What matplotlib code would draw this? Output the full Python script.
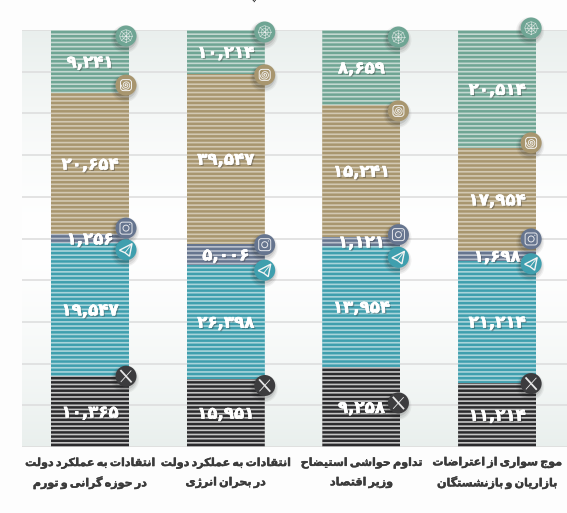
"""
Recreated stacked share chart: Persian text is shaped by hand because matplotlib does not do it.
"""

import numpy as np
import matplotlib

matplotlib.use("Agg")
import matplotlib.pyplot as plt
import matplotlib.patheffects as pe
from matplotlib.patches import Circle, FancyBboxPatch, Polygon

FA_DIGITS = str.maketrans("0123456789", "۰۱۲۳۴۵۶۷۸۹")

categories = [
    ["انتقادات به عملکرد دولت", "در حوزه گرانی و تورم"],
    ["انتقادات به عملکرد دولت", "در بحران انرژی"],
    ["تداوم حواشی استیضاح", "وزیر اقتصاد"],
    ["موج سواری از اعتراضات", "بازاریان و بازنشستگان"],
]
# from top of the stack to the bottom
green_vals = [9241, 10214, 8659, 20514]
tan_vals = [20654, 39547, 15241, 17954]
slate_vals = [1256, 5006, 1121, 1698]
teal_vals = [19547, 26398, 13954, 21214]
black_vals = [10365, 15951, 9258, 11214]

series = [green_vals, tan_vals, slate_vals, teal_vals, black_vals]
dark_colors = ["#6fa594", "#a8966f", "#66758f", "#3f9fae", "#2b2b2d"]
light_colors = ["#c3d8d0", "#d2c8b2", "#b9c0cc", "#a9d4da", "#c4c4c4"]
icon_kinds = ["net", "spiral", "insta", "plane", "x"]
# icon centre: pixels left of the bar edge, pixels below the top of its segment
icon_dx = [3, 0, 2, 5]
icon_dy = [
    [6, -8, -6, 7, 0],
    [2, 1, 1, 5, 7],
    [7, 6, -2, 11, 36],
    [-2, -5, -12, 3, 1],
]

FORMS = {
    "ا": "ﺍﺎ", "آ": "ﺁﺂ", "د": "ﺩﺪ", "ذ": "ﺫﺬ", "ر": "ﺭﺮ", "ز": "ﺯﺰ", "ژ": "ﮊﮋ", "و": "ﻭﻮ",
    "ب": "ﺏﺐﺑﺒ", "پ": "ﭖﭗﭘﭙ", "ت": "ﺕﺖﺗﺘ", "ث": "ﺙﺚﺛﺜ", "ج": "ﺝﺞﺟﺠ", "چ": "ﭺﭻﭼﭽ",
    "ح": "ﺡﺢﺣﺤ", "خ": "ﺥﺦﺧﺨ", "س": "ﺱﺲﺳﺴ", "ش": "ﺵﺶﺷﺸ", "ص": "ﺹﺺﺻﺼ", "ض": "ﺽﺾﺿﻀ",
    "ط": "ﻁﻂﻃﻄ", "ظ": "ﻅﻆﻇﻈ", "ع": "ﻉﻊﻋﻌ", "غ": "ﻍﻎﻏﻐ", "ف": "ﻑﻒﻓﻔ", "ق": "ﻕﻖﻗﻘ",
    "ک": "ﮎﮏﮐﮑ", "گ": "ﮒﮓﮔﮕ", "ل": "ﻝﻞﻟﻠ", "م": "ﻡﻢﻣﻤ", "ن": "ﻥﻦﻧﻨ", "ه": "ﻩﻪﻫﻬ",
    "ی": "ﯼﯽﯾﯿ",
}


def shape_fa(text):
    """Присоединяет буквы и разворачивает строку для отрисовки слева направо"""
    out = []
    for i, ch in enumerate(text):
        forms = FORMS.get(ch)
        if forms is None:
            out.append(ch)
            continue
        prev = text[i - 1] if i else " "
        nxt = text[i + 1] if i + 1 < len(text) else " "
        joins_prev = prev in FORMS and len(FORMS[prev]) == 4
        joins_next = nxt in FORMS and len(forms) == 4
        if joins_prev and joins_next:
            out.append(forms[3])
        elif joins_next:
            out.append(forms[2])
        elif joins_prev:
            out.append(forms[1])
        else:
            out.append(forms[0])
    return "".join(reversed(out)).replace(" ", "\u2009")


def draw_icon(ov, kind, cx, cy, color):
    for grow, alpha, shift in [(3.5, 0.06, 3), (2.2, 0.08, 3), (1.0, 0.12, 2)]:
        ov.add_patch(Circle((cx - 1, cy + shift), 10.5 + grow, color="#202020", alpha=alpha, lw=0, zorder=5))
    ov.add_patch(Circle((cx, cy), 10.5, color=color, lw=0, zorder=6))
    line = {"color": "#f4f4f4", "lw": 0.6, "zorder": 7}
    if kind == "net":
        for r in (6.4, 3.6):
            ang = np.linspace(0, 2 * np.pi, 9)
            ov.plot(cx + r * np.sin(ang), cy + r * np.cos(ang), alpha=0.6, **line)
        for a in np.linspace(0, 2 * np.pi, 8, endpoint=False):
            ov.plot([cx, cx + 6.4 * np.sin(a)], [cy, cy + 6.4 * np.cos(a)], alpha=0.6, **line)
    elif kind == "spiral":
        ov.add_patch(FancyBboxPatch((cx - 5.5, cy - 5.5), 11, 11, boxstyle="round,pad=0,rounding_size=3",
                                    fill=False, ec="#f4f4f4", lw=0.7, zorder=7))
        t = np.linspace(0, 5 * np.pi, 80)
        ov.plot(cx + t / 3.4 * np.cos(t), cy + t / 3.4 * np.sin(t), **line)
    elif kind == "insta":
        ov.add_patch(FancyBboxPatch((cx - 6, cy - 6), 12, 12, boxstyle="round,pad=0,rounding_size=2.5",
                                    fill=False, ec="#e6e8ec", lw=0.7, zorder=7))
        ov.add_patch(Circle((cx, cy), 3, fill=False, ec="#e6e8ec", lw=0.7, zorder=7))
        ov.add_patch(Circle((cx + 3.7, cy - 3.7), 0.6, color="#e6e8ec", lw=0, zorder=7))
    elif kind == "plane":
        pts = [(cx - 6.5, cy + 0.5), (cx + 6, cy - 6), (cx + 3.5, cy + 6.5), (cx - 1, cy + 3)]
        ov.add_patch(Polygon(pts, closed=True, fill=False, ec="#f4f4f4", lw=1.0, zorder=7))
        ov.plot([cx - 1, cx + 6], [cy + 3, cy - 6], **line)
    else:
        ov.plot([cx - 5, cx + 5], [cy - 5.5, cy + 5.5], color="#e8e8e8", lw=1.3, zorder=7)
        ov.plot([cx - 5, cx + 5], [cy + 5.5, cy - 5.5], color="#e8e8e8", lw=0.6, zorder=7)


W, H = 567, 513
fig = plt.figure(figsize=(W / 100, H / 100), dpi=100, facecolor="#fdfdfd")
ax = fig.add_axes([22 / W, 1 - 447 / H, (W - 22) / W, 417 / H])

# фон с градиентом сверху и снизу
grad = np.abs(np.linspace(-1, 1, 256)) ** 1.5
grad = np.stack([1 - grad * 0.085, 1 - grad * 0.062, 1 - grad * 0.07], axis=-1)[:, np.newaxis, :]
ax.imshow(grad, extent=[-0.501, 3.515, 0, 100], aspect="auto", zorder=0)

x = np.arange(len(categories))
bar_width = 0.575
totals = np.sum(series, axis=0)
stripe_y = np.arange(0, 100) + 0.5
tops = []
top = np.full(len(x), 100.0)
for vals, dark, light in zip(series, dark_colors, light_colors):
    share = np.array(vals) / totals * 100
    bars = ax.bar(x, share, bar_width, bottom=top - share, color=light, linewidth=0, zorder=2)
    # полоски: одна на каждый процент высоты
    for xi, bar in zip(x, bars):
        stripes = ax.hlines(stripe_y, xi - bar_width / 2, xi + bar_width / 2, color=dark, lw=1.8, zorder=3)
        stripes.set_snap(False)
        stripes.set_clip_path(bar)
    for xi, t, s, v in zip(x, top, share, vals):
        ax.text(xi, t - s / 2 - 0.2, f"{v:,}".translate(FA_DIGITS), ha="center", va="center", color="white",
                fontsize=12, fontweight="bold", zorder=4,
                path_effects=[pe.withSimplePatchShadow(offset=(1, -1), shadow_rgbFace="#333333", alpha=0.35),
                              pe.withStroke(linewidth=0.35, foreground="white")])
    tops.append(top.copy())
    top = top - share

ax.set_xlim(-0.501, 3.515)
ax.set_ylim(0, 100)
ax.set_yticks(np.arange(0, 101, 10))
ax.grid(axis="y", color="#dcdcdc", lw=1.1, zorder=1)
ax.set_axisbelow(True)
ax.tick_params(length=0, labelleft=False, labelbottom=False)
for s in ax.spines.values():
    s.set_visible(False)

# верхний слой в пикселях для значков
ov = fig.add_axes([0, 0, 1, 1], facecolor="none")
ov.set_xlim(0, W)
ov.set_ylim(H, 0)
ov.axis("off")
to_px = ax.transData
for i, xi in enumerate(x):
    for j, kind in enumerate(icon_kinds):
        px, py = to_px.transform((xi + bar_width / 2, tops[j][i]))
        draw_icon(ov, kind, px - icon_dx[i], H - py + icon_dy[i][j], dark_colors[j] if j < 4 else "#3c3c3e")
    cx_px = to_px.transform((xi, 0))[0]
    for k, row in enumerate(categories[i]):
        fig.text(cx_px / W, 1 - (463 + k * 19.5) / H, shape_fa(row), ha="center", va="center",
                 fontsize=8.0, fontweight="bold", color="#3b3b3b", family="DejaVu Sans",
                 path_effects=[pe.withStroke(linewidth=0.3, foreground="#3b3b3b")])

# обрезанный заголовок вверху
fig.text(255 / W, 1 + 5 / H, shape_fa("پ"), ha="center", va="center", fontsize=11, fontweight="bold", color="#222222")

fig.savefig("out.png", dpi=100)
